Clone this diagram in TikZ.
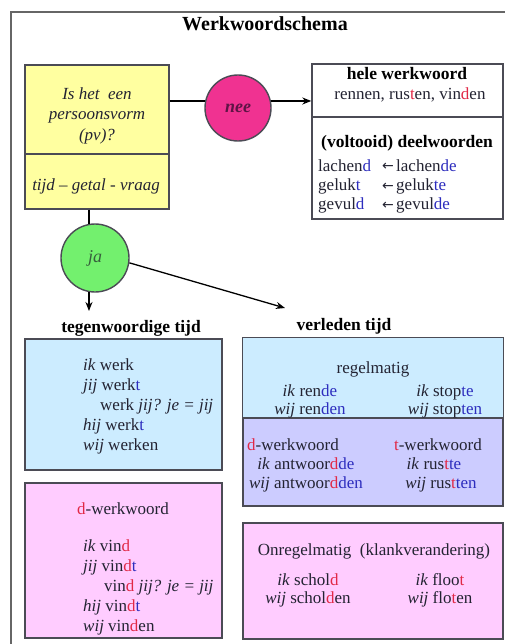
\documentclass[tikz,border=0pt]{standalone}
\usepackage{fontspec}
\setmainfont{Liberation Serif}
\newfontfamily\arrfont{DejaVu Sans}
\usetikzlibrary{arrows.meta}
\definecolor{ink}{RGB}{35,35,50}
\definecolor{dred}{RGB}{225,40,70}
\definecolor{dblu}{RGB}{45,45,190}
\definecolor{yel}{RGB}{255,255,160}
\definecolor{neefill}{RGB}{240,50,145}
\definecolor{neetxt}{RGB}{95,20,70}
\definecolor{jafill}{RGB}{115,240,110}
\definecolor{jatxt}{RGB}{55,95,60}
\definecolor{lblue}{RGB}{204,236,255}
\definecolor{lav}{RGB}{204,204,255}
\definecolor{lpink}{RGB}{255,204,255}
\definecolor{bord}{RGB}{75,75,85}
\newcommand{\myR}[1]{\textcolor{dred}{#1}}
\newcommand{\myB}[1]{\textcolor{dblu}{#1}}
\tikzset{
  txt/.style={inner sep=0pt, text=ink, font=\fontsize{17}{20}\selectfont},
  txtb/.style={inner sep=0pt, text=black, font=\fontsize{17.5}{20}\selectfont\bfseries},
  txti/.style={inner sep=0pt, text=ink, font=\fontsize{17}{20}\selectfont\itshape},
  arrt/.style={inner sep=0pt, text=ink, font=\fontsize{14}{20}\selectfont\arrfont},
  boxn/.style={draw=bord, line width=1.4pt, inner sep=0pt},
  divl/.style={draw=bord, line width=1.4pt},
  circn/.style={circle, draw=bord, line width=1.4pt, inner sep=0pt},
  conn/.style={draw=black, line width=1.3pt},
  arr/.style={conn, -{Stealth[length=9pt,width=7pt]}},
}
\begin{document}
\begin{tikzpicture}[x=1pt,y=-1pt]
\useasboundingbox (0,0) rectangle (505,644);
\draw[black!60, line width=2pt] (11,12) rectangle (512,652);

\node[txtb, anchor=base, font=\fontsize{20}{22}\selectfont\bfseries] (title) at (265,31) {Werkwoordschema};

% yellow question box
\node[boxn, fill=yel, minimum width=144pt, minimum height=144pt] (pv) at (97,137) {};
\draw[divl] (pv.west |- 0,154) -- (pv.east |- 0,154);
\node[txti, anchor=base] (q1) at (97,100) {Is het~ een};
\node[txti, anchor=base] (q2) at (97,120) {persoonsvorm};
\node[txti, anchor=base] (q3) at (97,141) {(pv)?};
\node[txti, anchor=base] (q4) at (96,191) {tijd -- getal - vraag};

% nee circle
\node[circn, fill=neefill, minimum size=66pt] (nee) at (238,108) {};
\node[inner sep=0pt, text=neetxt, font=\fontsize{18}{20}\selectfont\bfseries\itshape] (neet) at (nee) {nee};

% top right white box
\node[boxn, fill=white, minimum width=191pt, minimum height=155pt] (hw) at (407.5,141.5) {};
\draw[divl] (hw.west |- 0,117) -- (hw.east |- 0,117);
\node[txtb, anchor=base] (hw1) at (407,80) {hele werkwoord};
\node[txt, anchor=base] (hw2) at (410,100) {rennen, rus\myR{t}en, vin\myR{d}en};
\node[txtb, anchor=base] (hw3) at (407,148) {(voltooid) deelwoorden};
\node[txt, anchor=base west] (d1a) at (318,172) {lachen\myB{d}};
\node[arrt, anchor=base west] (d1b) at (382,171) {←};
\node[txt, anchor=base west] (d1c) at (396,172) {lachen\myB{de}};
\node[txt, anchor=base west] (d2a) at (318,191) {geluk\myB{t}};
\node[arrt, anchor=base west] (d2b) at (382,190) {←};
\node[txt, anchor=base west] (d2c) at (396,191) {geluk\myB{te}};
\node[txt, anchor=base west] (d3a) at (318,210) {gevul\myB{d}};
\node[arrt, anchor=base west] (d3b) at (382,209) {←};
\node[txt, anchor=base west] (d3c) at (396,210) {gevul\myB{de}};

% ja circle
\node[circn, fill=jafill, minimum size=68pt] (ja) at (95,258) {};
\node[inner sep=0pt, text=jatxt, font=\fontsize{18}{20}\selectfont\itshape] (jat) at (ja) {ja};

% connectors
\draw[conn] (pv.east |- nee.168) -- (nee.168);
\draw[arr] (nee.12) -- (nee.12 -| hw.west);
\draw[conn] (ja.100 |- pv.south) -- (ja.100);
\coordinate (downtip) at (89,311);
\coordinate (vtip) at (285,308);
\draw[arr] (ja.260) -- (ja.260 |- downtip);
\draw[arr] (ja.-8) -- (vtip);

% headings
\node[txtb, anchor=base] (tt) at (131,332) {tegenwoordige tijd};
\node[txtb, anchor=base] (vt) at (344,330) {verleden tijd};

% left blue box
\node[boxn, fill=lblue, minimum width=197pt, minimum height=131pt] (pres) at (123.5,404.5) {};
\node[txt, anchor=base west] (p1) at (83,370) {\textit{ik} werk};
\node[txt, anchor=base west] (p2) at (83,390) {\textit{jij} werk\myB{t}};
\node[txt, anchor=base west] (p3) at (100,410) {werk \textit{jij? je = jij}};
\node[txt, anchor=base west] (p4) at (83,430) {\textit{hij} werk\myB{t}};
\node[txt, anchor=base west] (p5) at (83,450) {\textit{wij} werken};

% left pink box
\node[boxn, fill=lpink, minimum width=197pt, minimum height=155pt] (dpres) at (123.5,560.5) {};
\node[txt, anchor=base west] (e0) at (77,514) {\myR{d}-werkwoord};
\node[txt, anchor=base west] (e1) at (83,551) {\textit{ik} vin\myR{d}};
\node[txt, anchor=base west] (e2) at (83,571) {\textit{jij} vin\myR{d}\myB{t}};
\node[txt, anchor=base west] (e3) at (104,591) {vin\myR{d} \textit{jij? je = jij}};
\node[txt, anchor=base west] (e4) at (83,611) {\textit{hij} vin\myR{d}\myB{t}};
\node[txt, anchor=base west] (e5) at (83,631) {\textit{wij} vin\myR{d}en};

% right past box (regelmatig)
\node[boxn, fill=lav, minimum width=260pt, minimum height=168pt] (past) at (373,422) {};
\fill[lblue] (past.north west) rectangle (past.east |- 0,418);
\draw[divl] (past.north west) rectangle (past.south east);
\draw[divl] (past.west |- 0,418) -- (past.east |- 0,418);
\node[txt, anchor=base] (r0) at (373,373) {regelmatig};
\node[txt, anchor=base] (r1) at (310,396) {\textit{ik} ren\myB{de}};
\node[txt, anchor=base] (r2) at (310,414) {\textit{wij} ren\myB{den}};
\node[txt, anchor=base] (r3) at (445,396) {\textit{ik} stop\myB{te}};
\node[txt, anchor=base] (r4) at (445,414) {\textit{wij} stop\myB{ten}};
\node[txt, anchor=base west] (s0) at (247,450) {\myR{d}-werkwoord};
\node[txt, anchor=base] (s1) at (306,469) {\textit{ik} antwoor\myR{d}\myB{de}};
\node[txt, anchor=base] (s2) at (306,488) {\textit{wij} antwoor\myR{d}\myB{den}};
\node[txt, anchor=base] (t0) at (438,450) {\myR{t}-werkwoord};
\node[txt, anchor=base] (t1) at (434,469) {\textit{ik} rus\myR{t}\myB{te}};
\node[txt, anchor=base] (t2) at (441,488) {\textit{wij} rus\myR{t}\myB{ten}};

% onregelmatig box
\node[boxn, fill=lpink, minimum width=260pt, minimum height=116pt] (irr) at (373,581) {};
\node[txt, anchor=base] (o0) at (374,555) {Onregelmatig~ (klankverandering)};
\node[txt, anchor=base] (o1) at (308,585) {\textit{ik} schol\myR{d}};
\node[txt, anchor=base] (o2) at (308,603) {\textit{wij} schol\myR{d}en};
\node[txt, anchor=base] (o3) at (440,585) {\textit{ik} floo\myR{t}};
\node[txt, anchor=base] (o4) at (440,603) {\textit{wij} flo\myR{t}en};
\end{tikzpicture}
\end{document}
